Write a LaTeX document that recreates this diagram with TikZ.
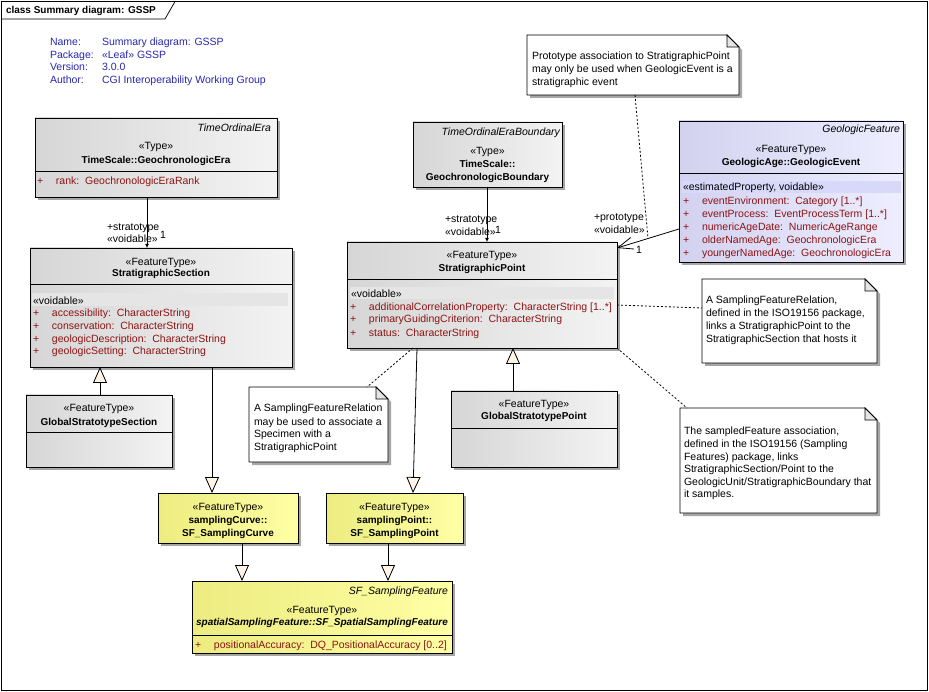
\documentclass[tikz,border=0pt]{standalone}
\usepackage{fontspec}
\setmainfont{Liberation Sans}
\usetikzlibrary{shadows,arrows.meta,calc}
\definecolor{hdrblue}{RGB}{40,40,175}
\definecolor{attrred}{RGB}{140,20,20}
\definecolor{tricream}{RGB}{255,244,230}
\definecolor{gryL}{RGB}{214,214,214}
\definecolor{gryR}{RGB}{243,243,243}
\definecolor{yelL}{RGB}{236,236,128}
\definecolor{yelR}{RGB}{255,255,165}
\definecolor{lavL}{RGB}{210,210,240}
\definecolor{lavR}{RGB}{238,238,255}
\definecolor{bandgray}{RGB}{229,229,229}
\definecolor{bandlav}{RGB}{216,216,250}
\newcommand{\plusbox}{\makebox[19pt][l]{+}}
\newcommand{\mkcls}[6]{\node[#2, minimum width={#5-#3}, minimum height={#6-#4}] (#1) at (#3,#4) {};}
\begin{document}
\begin{tikzpicture}[x=1pt,y=-1pt,
  every node/.style={inner sep=0pt, outer sep=0pt},
  txt/.style={font=\fontsize{10.5}{13}\selectfont, anchor=base},
  txtl/.style={txt, anchor=base west},
  bname/.style={font=\fontsize{10}{12}\selectfont\bfseries, anchor=base},
  ital/.style={font=\fontsize{10.5}{13}\selectfont\itshape, anchor=base east},
  bital/.style={font=\fontsize{10}{12}\selectfont\bfseries\itshape, anchor=base},
  attr/.style={txtl, text=attrred},
  info/.style={txtl, text=hdrblue},
  shadowed/.style={drop shadow={shadow xshift=3pt, shadow yshift=-3pt, fill=black!35, opacity=1}},
  cls/.style={draw=black, line width=0.8pt, anchor=north west, shadowed},
  graycls/.style={cls, left color=gryL, right color=gryR},
  yelcls/.style={cls, left color=yelL, right color=yelR},
  lavcls/.style={cls, left color=lavL, right color=lavR},
  sepline/.style={draw=black, line width=0.8pt},
  gen/.style={draw=black, line width=0.8pt, -{Triangle[length=16pt,width=14pt,fill=tricream]}},
  nav/.style={draw=black, line width=0.8pt, -{Latex[length=4pt,width=4pt]}},
  assoc/.style={draw=black, line width=0.8pt, -{Straight Barb[length=15pt,width=12pt]}},
  notelink/.style={draw=black, line width=0.8pt, dash pattern=on 2pt off 2pt},
  notebox/.style={anchor=north west},
  notedraw/.style={draw=black, line width=0.8pt, fill=white, shadowed},
  fold/.style={draw=black, line width=0.8pt, fill=black!10}
]
\useasboundingbox (0,0) rectangle (929,692);
\fill[white] (0,0) rectangle (929,692);

% frame and tab
\draw[line width=0.8pt] (1.5,1.5) rectangle (927,690);
\draw[line width=0.8pt] (1.5,19) -- (165,19) -- (175,1.5);
\node[bname, anchor=base west] (title) at (6,14) {class Summary diagram: GSSP};

% info
\node[info] (iNameL) at (50,46) {Name:};
\node[info] (iNameV) at (102,46) {Summary diagram: GSSP};
\node[info] (iPkgL) at (50,59) {Package:};
\node[info] (iPkgV) at (102,59) {«Leaf» GSSP};
\node[info] (iVerL) at (50,71) {Version:};
\node[info] (iVerV) at (102,71) {3.0.0};
\node[info] (iAutL) at (50,84) {Author:};
\node[info] (iAutV) at (102,84) {CGI Interoperability Working Group};

% ---------- TimeOrdinalEra / GeochronologicEra
\mkcls{era}{graycls}{35}{118}{277}{197}
\draw[sepline] (era.west |- 0,171) -- (era.east |- 0,171);
\node[ital] (eraP) at (271,132) {TimeOrdinalEra};
\node[txt] (eraS) at (156,150) {«Type»};
\node[bname] (eraN) at (156,164) {TimeScale::GeochronologicEra};
\node[attr] (eraA1) at (37,185) {\plusbox rank:~~GeochronologicEraRank};

% ---------- StratigraphicSection
\mkcls{ssec}{graycls}{30}{248}{292}{367}
\draw[sepline] (ssec.west |- 0,284) -- (ssec.east |- 0,284);
\node[txt] (ssecS) at (161,266) {«FeatureType»};
\node[bname] (ssecN) at (161,277) {StratigraphicSection};
\fill[bandgray] (32,293) rectangle (288,306);
\node[txtl] (ssecV) at (33,305) {«voidable»};
\node[attr] (ssecA1) at (33,317) {\plusbox accessibility:~~CharacterString};
\node[attr] (ssecA2) at (33,330) {\plusbox conservation:~~CharacterString};
\node[attr] (ssecA3) at (33,343) {\plusbox geologicDescription:~~CharacterString};
\node[attr] (ssecA4) at (33,355) {\plusbox geologicSetting:~~CharacterString};

% ---------- GlobalStratotypeSection
\mkcls{gss}{graycls}{26}{395}{172}{467}
\draw[sepline] (gss.west |- 0,432) -- (gss.east |- 0,432);
\node[txt] (gssS) at (99,412) {«FeatureType»};
\node[bname] (gssN) at (99,425) {GlobalStratotypeSection};

% ---------- SF_SamplingCurve
\mkcls{sc}{yelcls}{158}{493}{298}{543}
\node[txt] (scS) at (228,510) {«FeatureType»};
\node[bname] (scN1) at (228,523) {samplingCurve::};
\node[bname] (scN2) at (228,536) {SF\_SamplingCurve};

% ---------- SF_SamplingPoint
\mkcls{sp}{yelcls}{326}{493}{463}{543}
\node[txt] (spS) at (394.5,510) {«FeatureType»};
\node[bname] (spN1) at (394.5,523) {samplingPoint::};
\node[bname] (spN2) at (394.5,536) {SF\_SamplingPoint};

% ---------- SF_SpatialSamplingFeature
\mkcls{ssf}{yelcls}{192}{581}{452}{653}
\draw[sepline] (ssf.west |- 0,635) -- (ssf.east |- 0,635);
\node[ital] (ssfP) at (448,594) {SF\_SamplingFeature};
\node[txt] (ssfS) at (322,613) {«FeatureType»};
\node[bital] (ssfN) at (322,625) {spatialSamplingFeature::SF\_SpatialSamplingFeature};
\node[attr] (ssfA1) at (195,648) {\plusbox positionalAccuracy:~~DQ\_PositionalAccuracy [0..2]};

% ---------- TimeOrdinalEraBoundary / GeochronologicBoundary
\mkcls{teb}{graycls}{413}{122}{562}{187}
\node[ital] (tebP) at (560,136) {TimeOrdinalEraBoundary};
\node[txt] (tebS) at (487.5,155) {«Type»};
\node[bname] (tebN1) at (487.5,168) {TimeScale::};
\node[bname] (tebN2) at (487.5,181) {GeochronologicBoundary};

% ---------- StratigraphicPoint
\mkcls{stp}{graycls}{347}{242}{617}{348}
\draw[sepline] (stp.west |- 0,279) -- (stp.east |- 0,279);
\node[txt] (stpS) at (482,259) {«FeatureType»};
\node[bname] (stpN) at (482,272) {StratigraphicPoint};
\fill[bandgray] (350,287) rectangle (614,299.5);
\node[txtl] (stpV) at (351,298) {«voidable»};
\node[attr] (stpA1) at (350,311) {\plusbox additionalCorrelationProperty:~~CharacterString [1..*]};
\node[attr] (stpA2) at (350,323) {\plusbox primaryGuidingCriterion:~~CharacterString};
\node[attr] (stpA3) at (350,337) {\plusbox status:~~CharacterString};

% ---------- GlobalStratotypePoint
\mkcls{gsp}{graycls}{451}{391}{617}{467}
\draw[sepline] (gsp.west |- 0,428) -- (gsp.east |- 0,428);
\node[txt] (gspS) at (534,407) {«FeatureType»};
\node[bname] (gspN) at (534,420) {GlobalStratotypePoint};

% ---------- GeologicEvent
\mkcls{ge}{lavcls}{679}{121}{903}{262}
\draw[sepline] (ge.west |- 0,173) -- (ge.east |- 0,173);
\node[ital] (geP) at (900,133) {GeologicFeature};
\node[txt] (geS) at (791,153) {«FeatureType»};
\node[bname] (geN) at (791,166) {GeologicAge::GeologicEvent};
\fill[bandlav] (682,181) rectangle (901,193.5);
\node[txtl] (geV) at (683,191) {«estimatedProperty, voidable»};
\node[attr] (geA1) at (683,205) {\plusbox eventEnvironment:~~Category [1..*]};
\node[attr] (geA2) at (683,218) {\plusbox eventProcess:~~EventProcessTerm [1..*]};
\node[attr] (geA3) at (683,231) {\plusbox numericAgeDate:~~NumericAgeRange};
\node[attr] (geA4) at (683,244) {\plusbox olderNamedAge:~~GeochronologicEra};
\node[attr] (geA5) at (683,257) {\plusbox youngerNamedAge:~~GeochronologicEra};

% ---------- Notes
\node[notebox, minimum width=212, minimum height=60] (n1) at (527,35) {};
\draw[notedraw] (n1.north west) -- ([xshift=-12pt]n1.north east) -- ([yshift=-12pt]n1.north east) -- (n1.south east) -- (n1.south west) -- cycle;
\draw[fold] ([xshift=-12pt]n1.north east) -- ([xshift=-12pt,yshift=-12pt]n1.north east) -- ([yshift=-12pt]n1.north east) -- cycle;
\node[txtl] (n1a) at (532,60) {Prototype association to StratigraphicPoint};
\node[txtl] (n1b) at (532,73) {may only be used when GeologicEvent is a};
\node[txtl] (n1c) at (532,86) {stratigraphic event};

\node[notebox, minimum width=175, minimum height=84] (n2) at (702,279) {};
\draw[notedraw] (n2.north west) -- ([xshift=-12pt]n2.north east) -- ([yshift=-12pt]n2.north east) -- (n2.south east) -- (n2.south west) -- cycle;
\draw[fold] ([xshift=-12pt]n2.north east) -- ([xshift=-12pt,yshift=-12pt]n2.north east) -- ([yshift=-12pt]n2.north east) -- cycle;
\node[txtl] (n2a) at (706,304) {A SamplingFeatureRelation,};
\node[txtl] (n2b) at (706,317) {defined in the ISO19156 package,};
\node[txtl] (n2c) at (706,330) {links a StratigraphicPoint to the};
\node[txtl] (n2d) at (706,343) {StratigraphicSection that hosts it};

\node[notebox, minimum width=197, minimum height=105] (n3) at (680,408) {};
\draw[notedraw] (n3.north west) -- ([xshift=-12pt]n3.north east) -- ([yshift=-12pt]n3.north east) -- (n3.south east) -- (n3.south west) -- cycle;
\draw[fold] ([xshift=-12pt]n3.north east) -- ([xshift=-12pt,yshift=-12pt]n3.north east) -- ([yshift=-12pt]n3.north east) -- cycle;
\node[txtl] (n3a) at (684,435) {The sampledFeature association,};
\node[txtl] (n3b) at (684,447.5) {defined in the ISO19156 (Sampling};
\node[txtl] (n3c) at (684,460) {Features) package, links};
\node[txtl] (n3d) at (684,472.5) {StratigraphicSection/Point to the};
\node[txtl] (n3e) at (684,485) {GeologicUnit/StratigraphicBoundary that};
\node[txtl] (n3f) at (684,497.5) {it samples.};

\node[notebox, minimum width=139, minimum height=75] (n4) at (249,387) {};
\draw[notedraw] (n4.north west) -- ([xshift=-12pt]n4.north east) -- ([yshift=-12pt]n4.north east) -- (n4.south east) -- (n4.south west) -- cycle;
\draw[fold] ([xshift=-12pt]n4.north east) -- ([xshift=-12pt,yshift=-12pt]n4.north east) -- ([yshift=-12pt]n4.north east) -- cycle;
\node[txtl] (n4a) at (254,412) {A SamplingFeatureRelation};
\node[txtl] (n4b) at (254,425) {may be used to associate a};
\node[txtl] (n4c) at (254,437.5) {Specimen with a};
\node[txtl] (n4d) at (254,450.5) {StratigraphicPoint};

% ---------- Connectors
\draw[nav] (era.south -| 147,0) -- (ssec.north -| 147,0);
\node[txtl] (l1a) at (107,231) {+stratotype};
\node[txtl] (l1b) at (107,243) {«voidable»};
\node[txtl] (l1c) at (160,239) {1};

\draw[nav] (teb.south -| 487,0) -- (stp.north -| 487,0);
\node[txtl] (l2a) at (445,223) {+stratotype};
\node[txtl] (l2b) at (445,236) {«voidable»};
\node[txtl] (l2c) at (495,234) {1};

\coordinate (aS) at (ge.west |- 0,229);
\coordinate (aE) at (stp.east |- 0,248);
\coordinate (amid) at ($(aS)!0.5!(aE)$);
\draw[assoc] (aS) -- (aE);
\node[txtl] (l3a) at (594,221) {+prototype};
\node[txtl] (l3b) at (594,234) {«voidable»};
\node[txtl] (l3c) at (636,254) {1};

\draw[gen] (gss.north -| 100,0) -- (ssec.south -| 100,0);
\draw[gen] (ssec.south -| 212,0) -- (sc.north -| 212,0);
\draw[gen] (stp.south -| 417,0) -- (sp.north -| 413,0);
\draw[gen] (gsp.north -| 513,0) -- (stp.south -| 513,0);
\draw[gen] (sc.south -| 242,0) -- (ssf.north -| 242,0);
\draw[gen] (sp.south -| 388,0) -- (ssf.north -| 388,0);

\draw[notelink] (n1.south -| 635,0) -- (amid);
\draw[notelink] (stp.east |- 0,305) -- (n2.west |- 0,308);
\draw[notelink] (stp.south east) -- (n3.north -| 687,0);
\draw[notelink] (stp.south -| 413,0) -- (n4.north -| 367,0);
\end{tikzpicture}
\end{document}
